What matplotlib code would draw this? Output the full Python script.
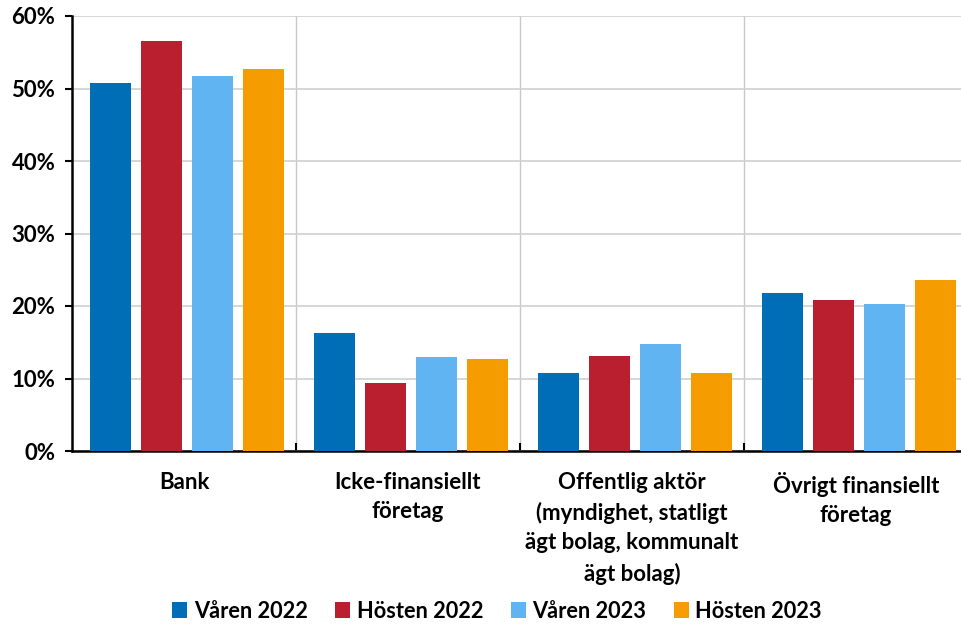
import matplotlib
matplotlib.use("Agg")
import matplotlib.pyplot as plt
from matplotlib.ticker import FixedLocator, FuncFormatter
from matplotlib.patches import Patch
import numpy as np

plt.rcParams['font.family'] = ['Lato', 'DejaVu Sans']
plt.rcParams['font.weight'] = 'bold'

categories = ["Bank", "Icke-finansiellt\nföretag",
              "Offentlig aktör\n(myndighet, statligt\nägt bolag, kommunalt\nägt bolag)",
              "Övrigt finansiellt\nföretag"]
series_names = ["Våren 2022", "Hösten 2022", "Våren 2023", "Hösten 2023"]
values = {
    "Våren 2022": [50.8, 16.3, 10.8, 21.8],
    "Hösten 2022": [56.6, 9.4, 13.1, 20.8],
    "Våren 2023": [51.7, 13.0, 14.8, 20.3],
    "Hösten 2023": [52.7, 12.7, 10.8, 23.6],
}
colors = ["#006EB6", "#B91F2E", "#61B4F2", "#F59C00"]

W, H = 961, 626
fig = plt.figure(figsize=(W/100, H/100), dpi=100)
ax = fig.add_axes([72/W, 1-451/H, 896/W, 435/H])

x = np.arange(len(categories))
step = 0.228
width = 0.183
for i, name in enumerate(series_names):
    ax.bar(x + (i-1.5)*step + 0.013, values[name], width=width, color=colors[i], zorder=3)

ax.set_xlim(-0.5, 3.5)
ax.set_ylim(0, 60)
ax.set_yticks(np.arange(0, 61, 10))
ax.yaxis.set_major_formatter(FuncFormatter(lambda v, p: f"{int(v)}%"))
ax.tick_params(axis='y', direction='out', length=5, width=1.5, labelsize=16, pad=7)

ax.xaxis.set_major_locator(FixedLocator([0.5, 1.5, 2.5]))
ax.xaxis.set_minor_locator(FixedLocator(x))
ax.xaxis.set_major_formatter(FuncFormatter(lambda v, p: ""))
ax.set_xticklabels(categories, minor=True)
ax.tick_params(axis='x', which='major', direction='in', length=6, width=1.5)
ax.tick_params(axis='x', which='minor', length=0, labelsize=16, pad=15)
for lbl in ax.get_xticklabels(minor=True):
    lbl.set_linespacing(1.5)
    lbl.set_verticalalignment('top')

ax.grid(axis='y', color='#D0D0D0', linewidth=1.2, zorder=0)
ax.grid(axis='x', which='major', color='#C8C8C8', linewidth=1.0, zorder=0)
for s in ['top', 'right']:
    ax.spines[s].set_visible(False)
ax.spines['left'].set_linewidth(1.8)
ax.spines['bottom'].set_linewidth(1.8)

handles = [Patch(facecolor=c, label=n) for c, n in zip(colors, series_names)]
fig.legend(handles=handles, loc='center', bbox_to_anchor=(497/W, 1-611/H), ncol=4,
           frameon=False, fontsize=15.7, handlelength=0.7, handleheight=0.7,
           handletextpad=0.3, columnspacing=1.25)

fig.savefig("out.png", dpi=100)
